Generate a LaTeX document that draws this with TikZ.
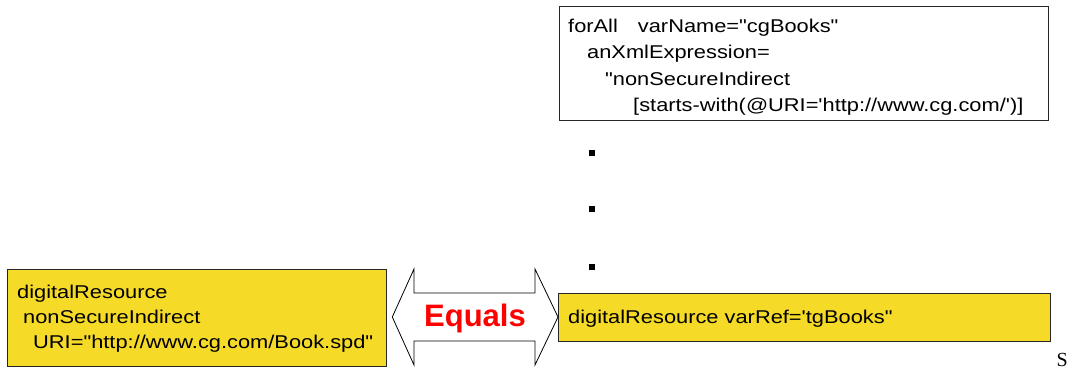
\documentclass[tikz,border=0pt]{standalone}
\usepackage{fontspec}
\setmainfont{Liberation Serif}
\newfontfamily\arial[FakeStretch=1.18]{Liberation Sans}
\newfontfamily\arialbold{Liberation Sans}
\definecolor{boxyellow}{RGB}{245,218,40}
\definecolor{eqred}{RGB}{255,0,0}
\begin{document}
\begin{tikzpicture}[x=1pt,y=-1pt,
  txt/.style={anchor=base west,inner sep=0pt,font=\arial\fontsize{18.5}{22}\selectfont},
  ybox/.style={draw=black!85,line width=1.3pt,fill=boxyellow,anchor=north west,inner sep=0pt},
  wbox/.style={draw=black!85,line width=1.3pt,fill=white,anchor=north west,inner sep=0pt},
  dotmark/.style={fill=black,minimum size=6pt,inner sep=0pt},
  dblarrow/.style={draw=black,line width=0.8pt,fill=white,line join=miter}]
\useasboundingbox (0,0) rectangle (1068,369);
% boxes
\node[wbox,minimum width=489pt,minimum height=114pt] (top) at (559,6) {};
\node[ybox,minimum width=379pt,minimum height=97pt] (left) at (7,269) {};
\node[ybox,minimum width=492pt,minimum height=48pt] (right) at (558,293) {};
% top text
\node[txt] (t1) at (568,33) {forAll\hspace{20pt}varName="cgBooks"};
\node[txt] (t2) at (587,59) {anXmlExpression=};
\node[txt] (t3) at (605,85) {"nonSecureIndirect};
\node[txt] (t4) at (633,111) {[starts-with(@URI='http://www.cg.com/')]};
% left text
\node[txt] (l1) at (17,298) {digitalResource};
\node[txt] (l2) at (23,323) {nonSecureIndirect};
\node[txt] (l3) at (33,348) {URI="http://www.cg.com/Book.spd"};
% right text
\node[txt] (r1) at (568,323) {digitalResource varRef='tgBooks"};
% dots
\node[dotmark] (d1) at (592,153) {};
\node[dotmark] (d2) at (592,209) {};
\node[dotmark] (d3) at (592,267) {};
% double arrow
\draw[dblarrow] (left.east |- 0,317) ++(5,0) coordinate (tipL)
  -- (414,269) -- (414,293) -- (535,293) -- (535,269)
  -- (right.west |- 0,317) coordinate (tipR)
  -- (535,365) -- (535,341) -- (414,341) -- (414,365) -- cycle;
\node[anchor=base,inner sep=0pt,text=eqred,font=\arialbold\bfseries\fontsize{31}{34}\selectfont] (eq) at (475,326) {Equals};
% stray letter
\node[anchor=base west,inner sep=0pt,font=\fontsize{20}{24}\selectfont] (s) at (1056.5,366) {S};
\end{tikzpicture}
\end{document}
